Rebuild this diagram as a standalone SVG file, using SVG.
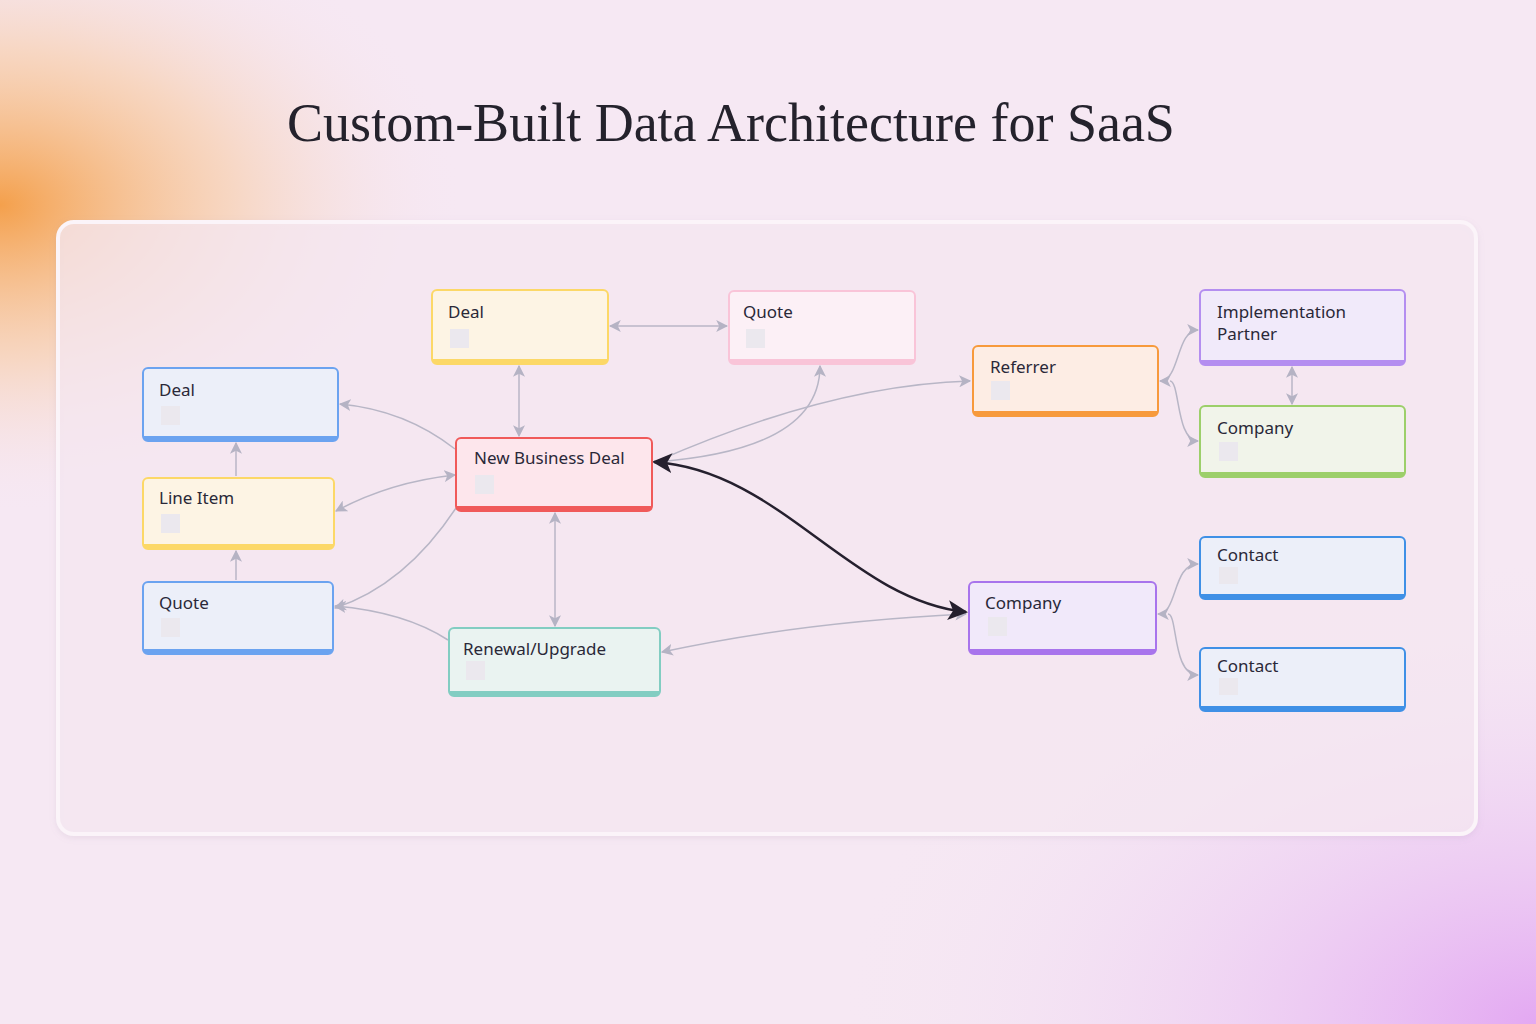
<svg xmlns="http://www.w3.org/2000/svg" width="1536" height="1024" viewBox="0 0 1536 1024">
<defs>
<radialGradient id="or" cx="0" cy="0.2" r="0.3"><stop offset="0" stop-color="#f4a04c"/><stop offset="0.5" stop-color="#f8c89a" stop-opacity="0.55"/><stop offset="1" stop-color="#f7e6f2" stop-opacity="0"/></radialGradient>
<radialGradient id="pu" cx="1" cy="1" r="0.45"><stop offset="0" stop-color="#e3a8f2"/><stop offset="1" stop-color="#f3e6f5" stop-opacity="0"/></radialGradient>
<marker id="ag" viewBox="0 0 10 10" refX="9" refY="5" markerWidth="12" markerHeight="12" markerUnits="userSpaceOnUse" orient="auto-start-reverse"><path d="M0,0 L10,5 L0,10 L2.5,5 Z" fill="#b5b3c4"/></marker>
<marker id="ad" viewBox="0 0 10 10" refX="9" refY="5" markerWidth="20" markerHeight="20" markerUnits="userSpaceOnUse" orient="auto-start-reverse"><path d="M0,0 L10,5 L0,10 L2.5,5 Z" fill="#25202e"/></marker>
<filter id="sh" x="-10%" y="-10%" width="120%" height="130%"><feDropShadow dx="0" dy="2" stdDeviation="3" flood-color="#9080a0" flood-opacity="0.15"/></filter>
</defs>
<style>
.t{font-family:"Noto Sans","Open Sans",sans-serif;font-size:17px;fill:#2a2838}
.c{fill:none;stroke:#b8b6c6;stroke-width:1.5;marker-end:url(#ag)}
.b{marker-start:url(#ag)}
.sq{fill:#ebe8ee}
</style>
<rect width="1536" height="1024" fill="#f6e8f3"/>
<rect width="1536" height="1024" fill="url(#or)"/>
<rect width="1536" height="1024" fill="url(#pu)"/>
<text x="731" y="141" text-anchor="middle" font-family="Liberation Serif,serif" font-size="54" fill="#24222c">Custom-Built Data Architecture for SaaS</text>
<rect x="58" y="222" width="1418" height="612" rx="16" fill="#f7eaf3" fill-opacity="0.75" stroke="#fbf4f9" stroke-width="4" filter="url(#sh)"/>
<g id="connectors">
<path class="c b" d="M610,326 L727,326"/>
<path class="c b" d="M519,366 L519,436"/>
<path class="c" d="M455,449 Q405,410 340,404"/>
<path class="c b" d="M455,475 Q390,482 336,511"/>
<path class="c" d="M236,476 L236,443"/>
<path class="c" d="M236,580 L236,551"/>
<path class="c" d="M456,508 Q405,585 335,608"/>
<path class="c" d="M448,640 Q405,612 335,606"/>
<path class="c b" d="M555,513 L555,626"/>
<path class="c" d="M655,462 Q820,450 820,366"/>
<path class="c" d="M655,462 Q830,385 970,381"/>
<path class="c b" d="M966,614 Q800,622 662,652"/>
<path class="c b" d="M1160,381 C1180,381 1176,330 1198,330"/>
<path class="c" d="M1170,381 C1180,381 1176,441 1198,441"/>
<path class="c b" d="M1292,367 L1292,404"/>
<path class="c b" d="M1158,614 C1178,614 1172,564 1198,564"/>
<path class="c" d="M1168,614 C1178,614 1172,675 1198,675"/>
<path d="M966,612 C850,600 780,470 654,462" fill="none" stroke="#25202e" stroke-width="2.5" marker-end="url(#ad)" marker-start="url(#ad)"/>
</g>
<g id="deal-top"><rect x="432" y="290" width="176" height="74" rx="5" fill="#fdf4e4" stroke="#fcd867" stroke-width="2"/><path d="M433,361 H607" stroke="#fcd867" stroke-width="4"/><text class="t" x="448" y="318">Deal</text><rect class="sq" x="450" y="329" width="19" height="19"/></g>
<g id="quote-top"><rect x="729" y="291" width="186" height="73" rx="5" fill="#fcf0f6" stroke="#f9c4d8" stroke-width="2"/><path d="M730,361 H914" stroke="#f9c4d8" stroke-width="4"/><text class="t" x="743" y="318">Quote</text><rect class="sq" x="746" y="329" width="19" height="19"/></g>
<g id="deal-left"><rect x="143" y="368" width="195" height="73" rx="5" fill="#eceff9" stroke="#6ba3f0" stroke-width="2"/><path d="M144,438 H337" stroke="#6ba3f0" stroke-width="4"/><text class="t" x="159" y="396">Deal</text><rect class="sq" x="161" y="406" width="19" height="19"/></g>
<g id="line-item"><rect x="143" y="478" width="191" height="71" rx="5" fill="#fdf4e4" stroke="#fcd867" stroke-width="2"/><path d="M144,546 H333" stroke="#fcd867" stroke-width="4"/><text class="t" x="159" y="504">Line Item</text><rect class="sq" x="161" y="514" width="19" height="19"/></g>
<g id="quote-left"><rect x="143" y="582" width="190" height="72" rx="5" fill="#eceff9" stroke="#6ba3f0" stroke-width="2"/><path d="M144,651 H332" stroke="#6ba3f0" stroke-width="4"/><text class="t" x="159" y="609">Quote</text><rect class="sq" x="161" y="618" width="19" height="19"/></g>
<g id="new-business-deal"><rect x="456" y="438" width="196" height="73" rx="5" fill="#fde6ec" stroke="#f05a5a" stroke-width="2"/><path d="M457,508 H651" stroke="#f05a5a" stroke-width="4"/><text class="t" x="474" y="464">New Business Deal</text><rect class="sq" x="475" y="475" width="19" height="19"/></g>
<g id="renewal"><rect x="449" y="628" width="211" height="68" rx="5" fill="#eaf3f1" stroke="#82cdc2" stroke-width="2"/><path d="M450,693 H659" stroke="#82cdc2" stroke-width="4"/><text class="t" x="463" y="655">Renewal/Upgrade</text><rect class="sq" x="466" y="661" width="19" height="19"/></g>
<g id="referrer"><rect x="973" y="346" width="185" height="70" rx="5" fill="#fdede4" stroke="#f79a3c" stroke-width="2"/><path d="M974,413 H1157" stroke="#f79a3c" stroke-width="4"/><text class="t" x="990" y="373">Referrer</text><rect class="sq" x="991" y="381" width="19" height="19"/></g>
<g id="impl-partner"><rect x="1200" y="290" width="205" height="75" rx="5" fill="#f1eafa" stroke="#b48ef0" stroke-width="2"/><path d="M1201,362 H1404" stroke="#b48ef0" stroke-width="4"/><text class="t" x="1217" y="318">Implementation</text><text class="t" x="1217" y="340">Partner</text></g>
<g id="company-green"><rect x="1200" y="406" width="205" height="71" rx="5" fill="#f1f4ea" stroke="#9ccf6a" stroke-width="2"/><path d="M1201,474 H1404" stroke="#9ccf6a" stroke-width="4"/><text class="t" x="1217" y="434">Company</text><rect class="sq" x="1219" y="442" width="19" height="19"/></g>
<g id="contact-1"><rect x="1200" y="537" width="205" height="62" rx="5" fill="#eceff9" stroke="#3f90e6" stroke-width="2"/><path d="M1201,596 H1404" stroke="#3f90e6" stroke-width="4"/><text class="t" x="1217" y="561">Contact</text><rect class="sq" x="1219" y="567" width="19" height="17"/></g>
<g id="contact-2"><rect x="1200" y="648" width="205" height="63" rx="5" fill="#eceff9" stroke="#3f90e6" stroke-width="2"/><path d="M1201,708 H1404" stroke="#3f90e6" stroke-width="4"/><text class="t" x="1217" y="672">Contact</text><rect class="sq" x="1219" y="678" width="19" height="17"/></g>
<g id="company-purple"><rect x="969" y="582" width="187" height="72" rx="5" fill="#f1e9fa" stroke="#a874ec" stroke-width="2"/><path d="M970,651 H1155" stroke="#a874ec" stroke-width="4"/><text class="t" x="985" y="609">Company</text><rect class="sq" x="988" y="617" width="19" height="19"/></g>
</svg>
